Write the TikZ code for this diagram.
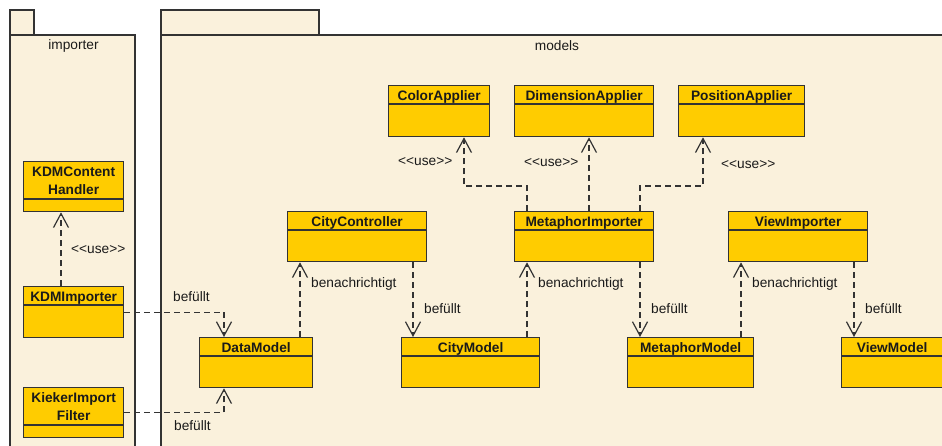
\documentclass[tikz,border=0pt]{standalone}
\usepackage{fontspec}
\setmainfont{Liberation Sans}
\usetikzlibrary{arrows.meta,calc}

\definecolor{pkgfill}{HTML}{FAF1DC}
\definecolor{clsfill}{HTML}{FFCC00}
\definecolor{edge}{HTML}{333333}
\definecolor{ink}{HTML}{1A1A1A}

\tikzset{
  pkgbox/.style={draw=edge, fill=pkgfill, line width=1.3pt},
  clsbox/.style={draw=edge, fill=clsfill, line width=1.3pt, inner sep=0pt, anchor=north west},
  clsline/.style={draw=edge, line width=1.3pt},
  clstitle/.style={font=\fontsize{13.7}{18}\selectfont\bfseries, text=ink, inner sep=0pt, align=center, anchor=base},
  pkgtitle/.style={font=\fontsize{13.7}{16}\selectfont, text=ink, inner sep=0pt},
  lbl/.style={font=\fontsize{13.7}{16}\selectfont, text=ink, inner sep=0pt, anchor=west},
  dep/.style={draw=edge, line width=1.2pt, dash pattern=on 6pt off 4pt,
              -{Straight Barb[length=14pt, width=15pt, line width=1.2pt]}},
}

% stereotype text, kept from turning into guillemets
\newcommand\stereo[1]{<{}<#1>{}>}

% \umlcls[baseline of last title line]{name}{left}{top}{width}{height}{name compartment height}{title}
\newcommand\umlcls[8][15.5]{%
  \node[clsbox, minimum width=#5pt, minimum height=#6pt] (#2) at (#3,#4) {};
  \draw[clsline] ([yshift=-#7pt]#2.north west) -- ([yshift=-#7pt]#2.north east);
  \node[clstitle] (#2-name) at ([yshift=-#1pt]#2.north) {#8};
}

\begin{document}
\begin{tikzpicture}[x=1pt, y=-1pt]
  \useasboundingbox (0,0) rectangle (942,445);
  \clip (0,0) rectangle (942,445);
  \fill[white] (0,0) rectangle (942,445);

  % package "importer"
  \draw[pkgbox] (10,10) rectangle (34,35);
  \draw[pkgbox] (10,35) rectangle (135,460);
  \node[pkgtitle] (imp-title) at (73.5,46) {importer};

  % package "models"
  \draw[pkgbox] (161,10) rectangle (319,35);
  \draw[pkgbox] (161,35) rectangle (960,460);
  \node[pkgtitle] (mod-title) at (557,46) {models};

  % importer classes
  \umlcls[33.5]{kch}{23}{161}{100}{50}{38}{KDMContent\\Handler}
  \umlcls{kdmi}{23}{286}{100}{51}{19}{KDMImporter}
  \umlcls[33.5]{kif}{23}{387}{100}{50}{38}{KiekerImport\\Filter}

  % model classes
  \umlcls{ca}{388}{85}{101}{51}{19}{ColorApplier}
  \umlcls{da}{514}{85}{139}{51}{19}{DimensionApplier}
  \umlcls{pa}{678}{85}{126}{51}{19}{PositionApplier}

  \umlcls{cc}{287}{211}{139}{50}{19}{CityController}
  \umlcls{mi}{514}{211}{139}{50}{19}{MetaphorImporter}
  \umlcls{vi}{728}{211}{139}{50}{19}{ViewImporter}

  \umlcls{dm}{199}{337}{113}{50}{19}{DataModel}
  \umlcls{cm}{401}{337}{138}{50}{19}{CityModel}
  \umlcls{mm}{627}{337}{126}{50}{19}{MetaphorModel}
  \umlcls{vm}{841}{337}{101}{50}{19}{ViewModel}

  % dependencies inside importer
  \draw[dep] (61,0 |- kdmi.north) -- (61,0 |- kch.south);
  \node[lbl] (l-use0) at (71,250) {\stereo{use}};

  % importers fill the data model
  \draw[dep] (kdmi.east) -| (224,0 |- dm.north);
  \node[lbl] (l-fill0) at (173,297) {befüllt};
  \draw[dep] (kif.east) -| (224,0 |- dm.south);
  \node[lbl] (l-fill1) at (174,426) {befüllt};

  % notification chain
  \draw[dep] (300,0 |- dm.north) -- (300,0 |- cc.south);
  \node[lbl] (l-not0) at (311,284) {benachrichtigt};
  \draw[dep] (413,0 |- cc.south) -- (413,0 |- cm.north);
  \node[lbl] (l-fill2) at (424,309) {befüllt};

  \draw[dep] (527,0 |- cm.north) -- (527,0 |- mi.south);
  \node[lbl] (l-not1) at (538,284) {benachrichtigt};
  \draw[dep] (640,0 |- mi.south) -- (640,0 |- mm.north);
  \node[lbl] (l-fill3) at (651,309) {befüllt};

  \draw[dep] (741,0 |- mm.north) -- (741,0 |- vi.south);
  \node[lbl] (l-not2) at (752,284) {benachrichtigt};
  \draw[dep] (854,0 |- vi.south) -- (854,0 |- vm.north);
  \node[lbl] (l-fill4) at (865,309) {befüllt};

  % metaphor importer uses the appliers
  \draw[dep] (527,0 |- mi.north) -- (527,186) -| (464,0 |- ca.south);
  \node[lbl] (l-use1) at (398,162) {\stereo{use}};
  \draw[dep] (589,0 |- mi.north) -- (589,0 |- da.south);
  \node[lbl] (l-use2) at (524,163) {\stereo{use}};
  \draw[dep] (640,0 |- mi.north) -- (640,186) -| (703,0 |- pa.south);
  \node[lbl] (l-use3) at (721,165) {\stereo{use}};
\end{tikzpicture}
\end{document}
